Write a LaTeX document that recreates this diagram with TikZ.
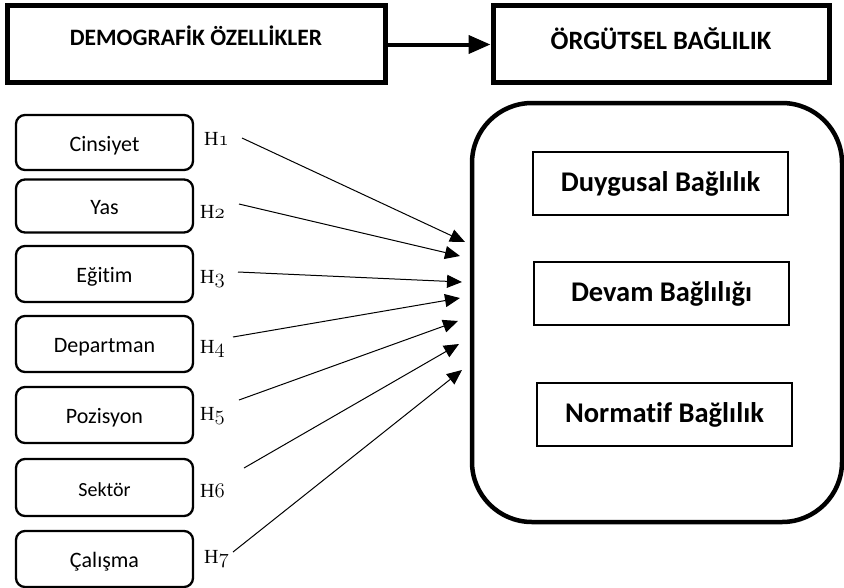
\documentclass[tikz,border=0pt]{standalone}
\usepackage{fontspec}
\setmainfont{Carlito}[Ligatures=NoCommon]
\newfontfamily\hfont{Liberation Serif}
\usetikzlibrary{arrows.meta}
\newcommand{\hnum}[1]{{\hfont H}{\fontsize{22}{24}\usefont{OML}{cmm}{m}{it}#1}}
\tikzset{
  topbox/.style={draw, line width=5pt, minimum height=77pt, inner sep=0pt},
  leftbox/.style={draw, line width=2.3pt, rounded corners=9pt, minimum width=177pt, minimum height=55pt, inner sep=0pt, text height=19pt, text depth=2pt, font=\fontsize{22}{26}\selectfont},
  innerbox/.style={draw, line width=1.6pt, minimum width=255pt, minimum height=63pt, inner sep=0pt, font=\fontsize{28.5}{32}\selectfont\bfseries},
  hlab/.style={anchor=base west, inner sep=0pt, font=\fontsize{20}{24}\selectfont},
  hyp/.style={line width=1pt, -{Triangle[length=15pt, width=13pt]}},
}
\begin{document}
\begin{tikzpicture}[x=1pt, y=-1pt]
\useasboundingbox (0,0) rectangle (844,587);
% top boxes
\node[topbox, minimum width=378pt] (demo) at (196,43.5) {};
\node[font=\fontsize{23.5}{28}\selectfont\bfseries] (demot) at (196,36) {DEMOGRAFİK ÖZELLİKLER};
\node[topbox, minimum width=336pt] (org) at (661,44) {};
\node[font=\fontsize{26.5}{30}\selectfont\bfseries] (orgt) at (661,39) {ÖRGÜTSEL BAĞLILIK};
\draw[line width=4pt, -{Triangle[length=22pt, width=18pt]}] (demo.east) ++(0,1) coordinate (s0) -- (org.west |- s0) coordinate (e0);
% big rounded box
\node[draw, line width=4.5pt, rounded corners=60pt, minimum width=370pt, minimum height=419pt] (big) at (657,312.5) {};
\node[innerbox] (duy) at (660.5,183.5) {Duygusal Bağlılık};
\node[innerbox] (dev) at (661.5,293.5) {Devam Bağlılığı};
\node[innerbox] (nor) at (664.5,414.5) {Normatif Bağlılık};
% left boxes
\node[leftbox] (b1) at (104.5,142.5) {Cinsiyet};
\node[leftbox, minimum height=53pt] (b2) at (104.5,206) {Yas};
\node[leftbox, minimum height=56pt] (b3) at (104.5,274) {Eğitim};
\node[leftbox, minimum height=56pt] (b4) at (104.5,344) {Departman};
\node[leftbox, minimum height=56pt] (b5) at (104.5,415) {Pozisyon};
\node[leftbox, minimum height=57pt, font=\fontsize{20}{24}\selectfont] (b6) at (104.5,487.5) {Sektör};
\node[leftbox, minimum height=56pt] (b7) at (104.5,559) {Çalışma};
% hypothesis labels
\node[hlab] (h1) at (204,145) {\hnum{1}};
\node[hlab] (h2) at (200,218) {\hnum{2}};
\node[hlab] (h3) at (200,283) {\hnum{3}};
\node[hlab] (h4) at (200,353) {\hnum{4}};
\node[hlab] (h5) at (200,420) {\hnum{5}};
\node[hlab] (h6) at (200,497) {\hnum{6}};
\node[hlab] (h7) at (204,563) {\hnum{7}};
% arrow end points
\coordinate (s1) at (242,138); \coordinate (t1) at (465,242);
\coordinate (s2) at (239,204); \coordinate (t2) at (460,256);
\coordinate (s3) at (238,272); \coordinate (t3) at (462,282);
\coordinate (s4) at (233,337); \coordinate (t4) at (460,298);
\coordinate (s5) at (239,400); \coordinate (t5) at (458,321);
\coordinate (s6) at (244,468); \coordinate (t6) at (459,344);
\coordinate (s7) at (233,552); \coordinate (t7) at (462,370);
\foreach \i in {1,...,7} { \draw[hyp] (s\i) -- (t\i); }
\end{tikzpicture}
\end{document}
